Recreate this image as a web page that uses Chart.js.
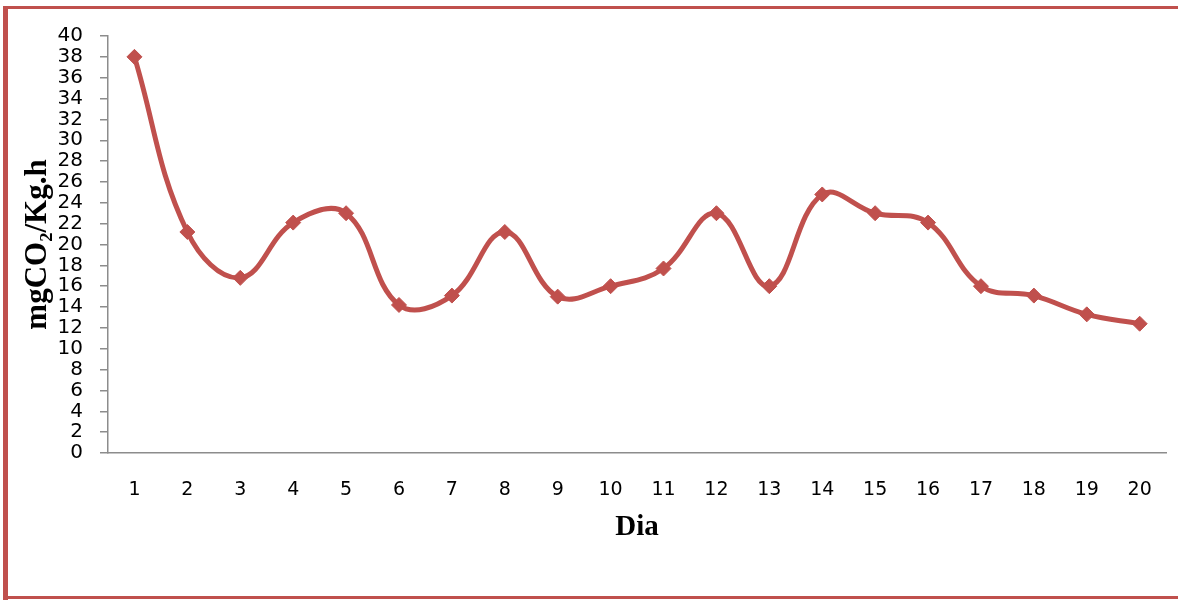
<!DOCTYPE html>
<html>
<head>
<meta charset="utf-8">
<script src="https://cdn.jsdelivr.net/npm/chart.js@4/dist/chart.umd.min.js"></script>
<style>
  html, body { margin: 0; padding: 0; background: #ffffff; overflow: hidden; }
  canvas { display: block; }
</style>
</head>
<body>
<canvas id="chart" width="1178" height="600"></canvas>
<script>
// Respiration rate per day
const dias = ['1','2','3','4','5','6','7','8','9','10','11','12','13','14','15','16','17','18','19','20'];
const taxaCO2 = [38.0, 21.2, 16.8, 22.1, 23.0, 14.2, 15.1, 21.2, 15.0, 16.0, 17.7, 23.0, 16.0, 24.8, 23.0, 22.1, 16.0, 15.1, 13.3, 12.4];
const yMin = 0, yMax = 40, yStep = 2;

const lineColor = '#c0504d';
const axisColor = '#8c8c8c';

// Open red frame (left, top and bottom edges) behind the chart
const framePlugin = {
  id: 'frame',
  beforeDraw(chart) {
    const ctx = chart.ctx;
    ctx.save();
    ctx.fillStyle = lineColor;
    ctx.fillRect(3, 6, 5, 594);
    ctx.fillRect(3, 6, 1175, 3);
    ctx.fillRect(3, 596, 1175, 3);
    ctx.restore();
  }
};

new Chart(document.getElementById('chart'), {
  type: 'line',
  data: {
    labels: dias,
    datasets: [{
      data: taxaCO2,
      borderColor: lineColor,
      backgroundColor: lineColor,
      borderWidth: 5,
      tension: 0.4,
      pointStyle: 'rectRot',
      pointRadius: 7.5,
      pointBackgroundColor: lineColor,
      pointBorderColor: lineColor,
      pointBorderWidth: 1,
      fill: false
    }]
  },
  options: {
    responsive: false,
    animation: false,
    events: [],
    layout: { padding: { left: 0, right: 9, top: 36, bottom: 55 } },
    plugins: { legend: { display: false }, tooltip: { enabled: false } },
    scales: {
      x: {
        offset: true,
        grid: { display: false, drawTicks: false },
        border: { display: true, color: axisColor, width: 1.5 },
        ticks: {
          color: '#000', padding: 26, maxRotation: 0, autoSkip: false,
          font: { family: 'DejaVu Sans', size: 19 }
        },
        title: {
          display: true, text: 'Dia', color: '#000',
          font: { family: 'Liberation Serif', size: 29, weight: 'bold' },
          padding: { top: 0, bottom: 0 }
        },
        afterFit: (s) => { s.height = 92; }
      },
      y: {
        min: yMin, max: yMax,
        grid: { drawOnChartArea: false, drawTicks: true, tickLength: 8, color: axisColor, lineWidth: 1.5 },
        border: { display: true, color: axisColor, width: 1.5 },
        ticks: {
          stepSize: yStep, color: '#000', padding: 17, autoSkip: false,
          font: { family: 'DejaVu Sans', size: 20 }
        },
        title: {
          display: true, text: 'mgCO₂/Kg.h', color: '#000',
          font: { family: 'Liberation Serif', size: 31, weight: 'bold' },
          padding: { top: 19, bottom: 0 }
        },
        afterFit: (s) => { s.width = 108; }
      }
    }
  },
  plugins: [framePlugin]
});
</script>
</body>
</html>
